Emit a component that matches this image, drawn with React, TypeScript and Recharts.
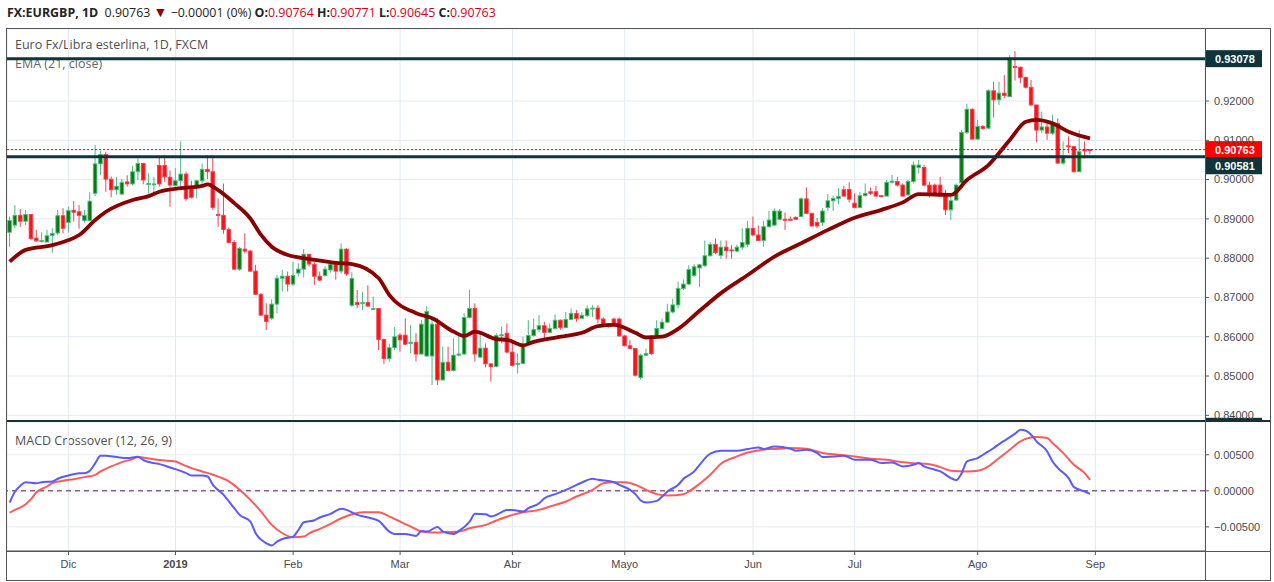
import React from 'react';
import { ComposedChart, Bar, Line, XAxis, YAxis, CartesianGrid, ReferenceLine } from 'recharts';

// daily EUR/GBP candles, 2018-11-16 .. 2019-08-30
const OPEN = [
  0.8866, 0.8884, 0.8909, 0.8894, 0.8911, 0.8851, 0.8842, 0.8841, 0.8858, 0.8864,
  0.8908, 0.8891, 0.8922, 0.8918, 0.8896, 0.8896, 0.8965, 0.9040, 0.9064, 0.9001,
  0.8974, 0.8963, 0.8994, 0.8989, 0.9020, 0.9041, 0.8989, 0.8988, 0.9036, 0.9036,
  0.9006, 0.8985, 0.8997, 0.9014, 0.8980, 0.8980, 0.8997, 0.9026, 0.9020, 0.8911,
  0.8909, 0.8873, 0.8840, 0.8772, 0.8823, 0.8818, 0.8767, 0.8708, 0.8655, 0.8647,
  0.8683, 0.8749, 0.8754, 0.8734, 0.8762, 0.8772, 0.8810, 0.8784, 0.8754, 0.8756,
  0.8770, 0.8784, 0.8767, 0.8823, 0.8680, 0.8687, 0.8686, 0.8687, 0.8671, 0.8672,
  0.8593, 0.8544, 0.8572, 0.8604, 0.8604, 0.8583, 0.8586, 0.8556, 0.8551, 0.8551,
  0.8632, 0.8490, 0.8535, 0.8514, 0.8553, 0.8556, 0.8649, 0.8672, 0.8548, 0.8571,
  0.8531, 0.8524, 0.8603, 0.8609, 0.8561, 0.8530, 0.8532, 0.8580, 0.8603, 0.8618,
  0.8628, 0.8611, 0.8621, 0.8642, 0.8623, 0.8644, 0.8659, 0.8647, 0.8654, 0.8671,
  0.8673, 0.8645, 0.8632, 0.8645, 0.8645, 0.8602, 0.8577, 0.8570, 0.8496, 0.8553,
  0.8601, 0.8601, 0.8621, 0.8637, 0.8663, 0.8681, 0.8723, 0.8734, 0.8756, 0.8775,
  0.8781, 0.8806, 0.8835, 0.8807, 0.8828, 0.8821, 0.8818, 0.8828, 0.8835, 0.8876,
  0.8859, 0.8845, 0.8880, 0.8884, 0.8899, 0.8899, 0.8899, 0.8904, 0.8906, 0.8951,
  0.8914, 0.8891, 0.8891, 0.8929, 0.8946, 0.8952, 0.8974, 0.8975, 0.8940, 0.8929,
  0.8959, 0.8969, 0.8969, 0.8959, 0.8958, 0.8993, 0.8995, 0.8986, 0.8961, 0.8995,
  0.9031, 0.9031, 0.8986, 0.8986, 0.8986, 0.8965, 0.8923, 0.8948, 0.8992, 0.9120,
  0.9179, 0.9103, 0.9135, 0.9131, 0.9226, 0.9203, 0.9220, 0.9211, 0.9288, 0.9286,
  0.9260, 0.9235, 0.9190, 0.9126, 0.9134, 0.9118, 0.9142, 0.9042, 0.9086, 0.9084,
  0.9020, 0.9077, 0.90764,
];
const HIGH = [
  0.8906, 0.8935, 0.8925, 0.8922, 0.8911, 0.8872, 0.8866, 0.8872, 0.8876, 0.8923,
  0.8927, 0.8931, 0.8945, 0.8935, 0.8923, 0.8968, 0.9088, 0.9073, 0.9071, 0.9008,
  0.9006, 0.9002, 0.9011, 0.9035, 0.9054, 0.9043, 0.9016, 0.9007, 0.9062, 0.9062,
  0.9023, 0.9029, 0.9097, 0.9020, 0.8997, 0.8999, 0.9041, 0.9062, 0.9062, 0.8952,
  0.8990, 0.8878, 0.8846, 0.8829, 0.8863, 0.8821, 0.8783, 0.8711, 0.8685, 0.8695,
  0.8757, 0.8770, 0.8766, 0.8791, 0.8787, 0.8823, 0.8810, 0.8791, 0.8766, 0.8779,
  0.8791, 0.8791, 0.8838, 0.8825, 0.8764, 0.8719, 0.8714, 0.8731, 0.8702, 0.8672,
  0.8595, 0.8582, 0.8625, 0.8609, 0.8647, 0.8630, 0.8609, 0.8643, 0.8678, 0.8643,
  0.8647, 0.8575, 0.8575, 0.8596, 0.8605, 0.8660, 0.8719, 0.8685, 0.8609, 0.8583,
  0.8531, 0.8609, 0.8626, 0.8634, 0.8592, 0.8557, 0.8600, 0.8642, 0.8646, 0.8655,
  0.8638, 0.8634, 0.8657, 0.8644, 0.8663, 0.8672, 0.8668, 0.8663, 0.8680, 0.8680,
  0.8680, 0.8650, 0.8635, 0.8649, 0.8649, 0.8604, 0.8591, 0.8571, 0.8557, 0.8570,
  0.8604, 0.8642, 0.8646, 0.8684, 0.8697, 0.8740, 0.8746, 0.8782, 0.8785, 0.8785,
  0.8845, 0.8842, 0.8850, 0.8845, 0.8845, 0.8833, 0.8835, 0.8876, 0.8895, 0.8906,
  0.8883, 0.8895, 0.8920, 0.8927, 0.8925, 0.8916, 0.8906, 0.8906, 0.8955, 0.8980,
  0.8916, 0.8902, 0.8927, 0.8963, 0.8959, 0.8978, 0.8984, 0.8993, 0.8965, 0.8969,
  0.8990, 0.8980, 0.8984, 0.8961, 0.8999, 0.9012, 0.9007, 0.8990, 0.8999, 0.9046,
  0.9050, 0.9037, 0.8995, 0.8990, 0.9007, 0.8974, 0.8957, 0.8990, 0.9126, 0.9193,
  0.9181, 0.9152, 0.9139, 0.9230, 0.9249, 0.9249, 0.9266, 0.9317, 0.9327, 0.9288,
  0.9262, 0.9254, 0.9190, 0.9173, 0.9152, 0.9165, 0.9156, 0.9097, 0.9110, 0.9086,
  0.9126, 0.9097, 0.90771,
];
const LOW = [
  0.8828, 0.8876, 0.8879, 0.8884, 0.8846, 0.8842, 0.8840, 0.8841, 0.8814, 0.8859,
  0.8863, 0.8865, 0.8893, 0.8875, 0.8891, 0.8896, 0.8958, 0.9012, 0.8969, 0.8955,
  0.8961, 0.8961, 0.8982, 0.8985, 0.8999, 0.8988, 0.8965, 0.8965, 0.8982, 0.8995,
  0.8931, 0.8982, 0.8978, 0.8946, 0.8952, 0.8952, 0.8986, 0.9001, 0.8923, 0.8880,
  0.8862, 0.8838, 0.8770, 0.8768, 0.8812, 0.8765, 0.8706, 0.8653, 0.8617, 0.8643,
  0.8660, 0.8715, 0.8715, 0.8729, 0.8753, 0.8751, 0.8779, 0.8732, 0.8742, 0.8753,
  0.8763, 0.8745, 0.8761, 0.8755, 0.8676, 0.8672, 0.8668, 0.8676, 0.8668, 0.8566,
  0.8531, 0.8536, 0.8566, 0.8562, 0.8579, 0.8558, 0.8537, 0.8554, 0.8549, 0.8477,
  0.8477, 0.8488, 0.8511, 0.8512, 0.8550, 0.8554, 0.8647, 0.8537, 0.8545, 0.8522,
  0.8486, 0.8522, 0.8583, 0.8558, 0.8524, 0.8506, 0.8530, 0.8578, 0.8600, 0.8612,
  0.8591, 0.8608, 0.8618, 0.8618, 0.8622, 0.8642, 0.8638, 0.8646, 0.8650, 0.8650,
  0.8634, 0.8629, 0.8623, 0.8627, 0.8600, 0.8576, 0.8568, 0.8499, 0.8491, 0.8551,
  0.8553, 0.8598, 0.8618, 0.8635, 0.8659, 0.8672, 0.8719, 0.8731, 0.8753, 0.8726,
  0.8777, 0.8804, 0.8810, 0.8798, 0.8799, 0.8799, 0.8815, 0.8821, 0.8829, 0.8856,
  0.8843, 0.8829, 0.8878, 0.8882, 0.8897, 0.8872, 0.8895, 0.8897, 0.8904, 0.8912,
  0.8880, 0.8876, 0.8882, 0.8920, 0.8920, 0.8937, 0.8957, 0.8942, 0.8927, 0.8927,
  0.8957, 0.8961, 0.8957, 0.8955, 0.8957, 0.8990, 0.8982, 0.8957, 0.8959, 0.8990,
  0.9016, 0.8982, 0.8955, 0.8962, 0.8957, 0.8910, 0.8897, 0.8946, 0.8990, 0.9116,
  0.9102, 0.9101, 0.9126, 0.9128, 0.9158, 0.9190, 0.9207, 0.9210, 0.9252, 0.9245,
  0.9232, 0.9186, 0.9095, 0.9118, 0.9101, 0.9114, 0.9040, 0.9038, 0.9067, 0.9018,
  0.9020, 0.9054, 0.90645,
];
const CLOSE = [
  0.8896, 0.8909, 0.8894, 0.8911, 0.8850, 0.8844, 0.8845, 0.8857, 0.8863, 0.8908,
  0.8876, 0.8921, 0.8917, 0.8909, 0.8909, 0.8945, 0.9040, 0.9064, 0.9001, 0.8974,
  0.8983, 0.8993, 0.8989, 0.9020, 0.9041, 0.8999, 0.8990, 0.8989, 0.8989, 0.9007,
  0.8986, 0.8997, 0.9014, 0.8951, 0.8955, 0.8997, 0.9026, 0.9020, 0.8929, 0.8909,
  0.8873, 0.8840, 0.8772, 0.8825, 0.8818, 0.8767, 0.8708, 0.8655, 0.8639, 0.8683,
  0.8749, 0.8754, 0.8734, 0.8756, 0.8772, 0.8810, 0.8785, 0.8754, 0.8744, 0.8772,
  0.8784, 0.8767, 0.8823, 0.8760, 0.8748, 0.8682, 0.8687, 0.8678, 0.8672, 0.8593,
  0.8544, 0.8572, 0.8600, 0.8592, 0.8581, 0.8586, 0.8556, 0.8632, 0.8664, 0.8632,
  0.8490, 0.8535, 0.8514, 0.8553, 0.8556, 0.8649, 0.8672, 0.8556, 0.8571, 0.8531,
  0.8524, 0.8603, 0.8605, 0.8561, 0.8527, 0.8532, 0.8580, 0.8603, 0.8618, 0.8628,
  0.8611, 0.8621, 0.8642, 0.8623, 0.8644, 0.8659, 0.8646, 0.8654, 0.8671, 0.8673,
  0.8645, 0.8632, 0.8627, 0.8632, 0.8602, 0.8577, 0.8570, 0.8502, 0.8553, 0.8557,
  0.8557, 0.8621, 0.8637, 0.8663, 0.8681, 0.8723, 0.8734, 0.8771, 0.8778, 0.8783,
  0.8806, 0.8835, 0.8814, 0.8828, 0.8819, 0.8819, 0.8828, 0.8840, 0.8876, 0.8859,
  0.8845, 0.8880, 0.8897, 0.8920, 0.8920, 0.8897, 0.8897, 0.8899, 0.8951, 0.8914,
  0.8882, 0.8882, 0.8920, 0.8946, 0.8952, 0.8957, 0.8958, 0.8950, 0.8929, 0.8959,
  0.8965, 0.8965, 0.8958, 0.8957, 0.8993, 0.8996, 0.8986, 0.8958, 0.8995, 0.9037,
  0.9037, 0.8986, 0.8967, 0.8965, 0.8965, 0.8923, 0.8946, 0.8986, 0.9120, 0.9179,
  0.9103, 0.9135, 0.9130, 0.9226, 0.9203, 0.9220, 0.9214, 0.9309, 0.9286, 0.9260,
  0.9235, 0.9190, 0.9126, 0.9134, 0.9118, 0.9142, 0.9042, 0.9060, 0.9084, 0.9020,
  0.9071, 0.9073, 0.90763,
];

// [bar index, value]
const EMA21: [number, number][] = [
  [0, 0.8791], [3, 0.8821], [8, 0.8833], [11, 0.8846], [13, 0.8859], [16, 0.8897], [18, 0.8918],
  [23, 0.8948], [26, 0.8958], [28, 0.8969], [32, 0.8978], [36, 0.8984], [37, 0.8988], [39, 0.8973],
  [42, 0.8940], [45, 0.8901], [47, 0.8859], [49, 0.8829], [52, 0.8808], [54, 0.8802], [58, 0.8794],
  [61, 0.8788], [64, 0.8785], [69, 0.8749], [71, 0.8706], [76, 0.8660], [79, 0.8647], [83, 0.8613],
  [85, 0.8602], [87, 0.8613], [91, 0.8594], [93, 0.8592], [96, 0.8578], [98, 0.8587], [104, 0.8602],
  [107, 0.8610], [110, 0.8627], [113, 0.8630], [117, 0.8610], [119, 0.8598], [122, 0.8600],
  [125, 0.8620], [129, 0.8666], [133, 0.8711], [138, 0.8757], [143, 0.8804], [148, 0.8838],
  [153, 0.8872], [158, 0.8903], [163, 0.8923], [167, 0.8942], [170, 0.8963], [176, 0.8961],
  [179, 0.8999], [183, 0.9037], [187, 0.9101], [190, 0.9147], [192, 0.9152], [195, 0.9143],
  [198, 0.9122], [202, 0.9105],
];
const MACD_LINE: [number, number][] = [
  [0, -0.00162], [1, -0.0001], [2, 0.0007], [3, 0.0012], [5, 0.00106], [6, 0.0012], [8, 0.0013],
  [9, 0.00167], [11, 0.00213], [13, 0.00245], [14, 0.00245], [15, 0.00278], [16, 0.00384],
  [17, 0.00486], [18, 0.00486], [20, 0.00468], [22, 0.00454], [24, 0.00472], [25, 0.00426],
  [27, 0.00384], [28, 0.0037], [30, 0.00324], [31, 0.00301], [33, 0.00245], [34, 0.00213],
  [36, 0.00213], [37, 0.00199], [38, 0.00083], [40, -0.00056], [42, -0.00241], [43, -0.00333],
  [45, -0.00426], [46, -0.00588], [48, -0.00727], [49, -0.00759], [50, -0.00704], [51, -0.00667],
  [53, -0.00634], [54, -0.00542], [55, -0.00435], [57, -0.00407], [58, -0.0037], [60, -0.00319],
  [62, -0.0025], [63, -0.00264], [65, -0.00333], [67, -0.0037], [69, -0.00417], [71, -0.00565],
  [72, -0.00597], [74, -0.00597], [75, -0.00611], [76, -0.00625], [77, -0.00556], [78, -0.00565],
  [80, -0.005], [81, -0.00565], [83, -0.00597], [84, -0.00556], [86, -0.00426], [87, -0.00319],
  [89, -0.00324], [90, -0.00357], [92, -0.00296], [93, -0.00264], [94, -0.00264], [96, -0.00287],
  [97, -0.00241], [99, -0.00171], [100, -0.00102], [102, -0.00046], [104, 0.00014], [106, 0.00083],
  [107, 0.00116], [109, 0.00167], [110, 0.00153], [113, 0.0012], [114, 0.00083], [116, 0.00014],
  [117, -0.00046], [118, -0.00134], [119, -0.00162], [121, -0.00139], [122, -0.00079],
  [123, -0.00009], [125, 0.00083], [126, 0.00167], [128, 0.00269], [129, 0.00361], [131, 0.00514],
  [133, 0.00556], [136, 0.00556], [138, 0.00579], [140, 0.00602], [141, 0.00579], [143, 0.00616],
  [146, 0.00583], [147, 0.00556], [149, 0.00569], [151, 0.00523], [152, 0.00468], [154, 0.00477],
  [156, 0.00486], [158, 0.00431], [161, 0.00431], [163, 0.00384], [165, 0.00394], [167, 0.00338],
  [169, 0.00361], [170, 0.00384], [171, 0.00338], [173, 0.00292], [174, 0.00269], [176, 0.00176],
  [177, 0.00148], [178, 0.00245], [179, 0.00407], [181, 0.00454], [182, 0.005], [184, 0.00593],
  [185, 0.00648], [186, 0.00695], [188, 0.00792], [189, 0.00847], [190, 0.00833], [191, 0.00778],
  [192, 0.00685], [194, 0.00546], [195, 0.00407], [196, 0.00315], [198, 0.00176], [199, 0.00051],
  [201, -0.00009], [202, -0.00042],
];
const SIGNAL_LINE: [number, number][] = [
  [0, -0.00301], [1, -0.00264], [3, -0.00185], [4, -0.00116], [5, -0.00019], [7, 0.0006],
  [8, 0.00106], [10, 0.00139], [12, 0.00162], [14, 0.0019], [16, 0.00222], [17, 0.00269],
  [19, 0.00338], [21, 0.00398], [23, 0.0044], [24, 0.00468], [26, 0.00449], [28, 0.00426],
  [31, 0.00407], [32, 0.00375], [34, 0.00315], [36, 0.00269], [38, 0.00222], [41, 0.0013],
  [43, 0.00014], [45, -0.00125], [47, -0.00287], [49, -0.00472], [51, -0.00588], [53, -0.00644],
  [55, -0.00634], [56, -0.00588], [58, -0.00528], [60, -0.00458], [62, -0.0038], [64, -0.00324],
  [66, -0.00296], [69, -0.00296], [71, -0.00357], [73, -0.00426], [75, -0.00495], [77, -0.00565],
  [79, -0.00579], [81, -0.00574], [84, -0.00565], [86, -0.00519], [89, -0.00472], [91, -0.00412],
  [94, -0.00333], [96, -0.00296], [99, -0.00264], [101, -0.00218], [104, -0.00148], [106, -0.00079],
  [109, 0.00014], [111, 0.00106], [113, 0.0012], [115, 0.0012], [117, 0.00083], [119, 0.00014],
  [121, -0.00046], [123, -0.00065], [126, -0.00046], [127, -0.00009], [129, 0.00097], [131, 0.00222],
  [133, 0.00375], [136, 0.00477], [138, 0.00532], [140, 0.0056], [142, 0.00579], [144, 0.00583],
  [146, 0.00593], [149, 0.00583], [152, 0.00523], [155, 0.005], [158, 0.00477], [161, 0.00444],
  [164, 0.00431], [166, 0.00407], [169, 0.00384], [172, 0.0037], [174, 0.00329], [176, 0.00278],
  [179, 0.00269], [181, 0.00278], [183, 0.00338], [185, 0.00454], [187, 0.00569], [189, 0.00685],
  [192, 0.00745], [194, 0.00732], [195, 0.00662], [197, 0.00523], [199, 0.00361], [201, 0.00245],
  [202, 0.00153],
];

const MONTH_IDX = [11, 31, 53, 73, 94, 115, 139, 158, 181, 203];
const MONTH_LABELS = ['Dic', '2019', 'Feb', 'Mar', 'Abr', 'Mayo', 'Jun', 'Jul', 'Ago', 'Sep'];
const PRICE_TICKS = [0.84, 0.85, 0.86, 0.87, 0.88, 0.89, 0.9, 0.91, 0.92];
const MACD_TICKS = [-0.005, 0, 0.005];
const SLOTS = 224; // bars + empty space on the right

const GRID = '#e3ebf1';
const LEVEL = '#0f3439';
const AXIS = '#555';
const TXT = '#4a4a4a';
const UP_FILL = '#0a7a0a';
const UP_LINE = '#4dba82';
const DN_FILL = '#ff1212';
const DN_LINE = '#ec4457';
const VAL_RED = '#d0021b';

const emaAt = new Map(EMA21);
const macdAt = new Map(MACD_LINE);
const sigAt = new Map(SIGNAL_LINE);

const rows = Array.from({ length: SLOTS }, (_, i) => {
  const has = i < CLOSE.length;
  return {
    i,
    o: has ? OPEN[i] : null,
    h: has ? HIGH[i] : null,
    l: has ? LOW[i] : null,
    c: has ? CLOSE[i] : null,
    range: has ? [LOW[i], HIGH[i]] : null,
    ema: emaAt.get(i) ?? null,
    macd: macdAt.get(i) ?? null,
    signal: sigAt.get(i) ?? null,
  };
});

const fmt5 = (v: number) => (v < 0 ? '\u2212' : '') + Math.abs(v).toFixed(5);

function Candle(props: any) {
  const { x, y, width, height, payload } = props;
  if (!payload || payload.o == null) return null;
  const { o, h, l, c } = payload;
  const top = Math.min(y, y + height);
  const hgt = Math.abs(height);
  const k = h - l > 0 ? hgt / (h - l) : 0;
  const yO = top + (h - o) * k;
  const yC = top + (h - c) * k;
  const up = c >= o;
  const cx = x + width / 2;
  const bTop = Math.min(yO, yC);
  const bH = Math.max(1, Math.abs(yO - yC));
  return (
    <g>
      <line x1={cx} x2={cx} y1={top} y2={top + hgt} stroke={up ? UP_LINE : DN_LINE} strokeWidth={1} />
      <rect x={cx - 1.8} y={bTop} width={3.6} height={bH}
        fill={up ? UP_FILL : DN_FILL} stroke={up ? UP_LINE : DN_LINE} strokeWidth={0.9} />
    </g>
  );
}

function PriceTag(props: any) {
  const { viewBox, text, bg, shift = 0 } = props;
  if (!viewBox) return null;
  const x = viewBox.x + viewBox.width;
  const y = viewBox.y + shift;
  return (
    <g>
      <rect x={x + 1} y={y - 8.5} width={56} height={17} fill={bg} />
      <text x={x + 10} y={y + 4} fill="#fff" fontSize={11} fontWeight={700}>{text}</text>
    </g>
  );
}

function MonthTick(props: any) {
  const { x, y, payload } = props;
  const label = MONTH_LABELS[MONTH_IDX.indexOf(payload.value)];
  return (
    <text x={x} y={y + 11} textAnchor="middle" fontSize={11} fill={TXT}
      fontWeight={label === '2019' ? 700 : 400}>{label}</text>
  );
}

const tickStyle = { fontSize: 11, fill: TXT };

export default function App() {
  return (
    <div style={{
      position: 'absolute', left: 0, top: 0, width: 1274, height: 582, background: '#fff',
      fontFamily: '"Liberation Sans", Arial, sans-serif', overflow: 'hidden',
    }}>
      <div style={{
        position: 'absolute', left: 7, top: 4, fontFamily: '"Open Sans", sans-serif', fontSize: 12.4,
        lineHeight: '16px', color: '#222', whiteSpace: 'nowrap',
      }}>
        <b>FX:EURGBP, 1D</b>&nbsp; 0.90763 <span style={{ color: '#8b0000', fontSize: 14 }}>▼</span> −0.00001 (0%)&nbsp;
        <b>O:</b><span style={{ color: VAL_RED }}>0.90764</span>&nbsp;
        <b>H:</b><span style={{ color: VAL_RED }}>0.90771</span>&nbsp;
        <b>L:</b><span style={{ color: VAL_RED }}>0.90645</span>&nbsp;
        <b>C:</b><span style={{ color: VAL_RED }}>0.90763</span>
      </div>

      <div style={{ position: 'absolute', left: 6, top: 28, width: 1263, height: 551, border: `1px solid ${AXIS}` }} />

      <div style={{ position: 'absolute', left: 15, top: 36, fontFamily: '"Open Sans", sans-serif', fontSize: 12.5, color: '#4f4f4f', whiteSpace: 'nowrap' }}>
        Euro Fx/Libra esterlina, 1D, FXCM
      </div>
      <div style={{ position: 'absolute', left: 15, top: 55, fontFamily: '"Open Sans", sans-serif', fontSize: 12.5, color: '#666', whiteSpace: 'nowrap' }}>
        EMA (21, close)
      </div>
      <div style={{ position: 'absolute', left: 15, top: 432, fontFamily: '"Open Sans", sans-serif', fontSize: 12.5, color: '#4f4f4f', whiteSpace: 'nowrap' }}>
        MACD Crossover (12, 26, 9)
      </div>

      <div style={{ position: 'absolute', left: 7, top: 29 }}>
        <ComposedChart width={1263} height={392} data={rows} margin={{ top: 0, right: 0, bottom: 0, left: 0 }}>
          <CartesianGrid stroke={GRID} />
          <XAxis dataKey="i" type="category" scale="band" hide ticks={MONTH_IDX} interval={0} />
          <YAxis orientation="right" width={65} domain={[0.83855, 0.93833]} ticks={PRICE_TICKS} interval={0}
            allowDataOverflow tickFormatter={fmt5} axisLine={false} tickLine={{ stroke: AXIS }}
            tickSize={4} tickMargin={5} tick={tickStyle} />
          <Bar dataKey="range" shape={Candle} isAnimationActive={false} />
          <Line dataKey="ema" type="monotone" stroke="#8b0000" strokeWidth={3.8} dot={false}
            connectNulls isAnimationActive={false} />
          <ReferenceLine y={0.90763} stroke="#ff0000" strokeDasharray="2 2" strokeWidth={1}
            label={<PriceTag text="0.90763" bg="#ff0000" />} />
          <ReferenceLine y={0.93078} stroke={LEVEL} strokeWidth={3}
            label={<PriceTag text="0.93078" bg={LEVEL} />} />
          <ReferenceLine y={0.90581} stroke={LEVEL} strokeWidth={3}
            label={<PriceTag text="0.90581" bg={LEVEL} shift={9} />} />
          <ReferenceLine y={0.83822} stroke={LEVEL} strokeWidth={0} ifOverflow="visible"
            label={<PriceTag text="0.83822" bg={LEVEL} shift={4} />} />
        </ComposedChart>
      </div>

      <div style={{ position: 'absolute', left: 7, top: 420, width: 1263, height: 2, background: '#1c2f33' }} />

      <div style={{ position: 'absolute', left: 7, top: 422 }}>
        <ComposedChart width={1263} height={158} data={rows} margin={{ top: 0, right: 0, bottom: 0, left: 0 }}>
          <CartesianGrid stroke={GRID} />
          <XAxis dataKey="i" type="category" scale="band" ticks={MONTH_IDX} interval={0} height={29}
            tick={<MonthTick />} tickSize={4} tickMargin={2} axisLine={{ stroke: AXIS }} tickLine={{ stroke: AXIS }} />
          <YAxis orientation="right" width={65} domain={[-0.00834, 0.00954]} ticks={MACD_TICKS} interval={0}
            allowDataOverflow tickFormatter={fmt5} axisLine={false} tickLine={{ stroke: AXIS }}
            tickSize={4} tickMargin={5} tick={tickStyle} />
          <ReferenceLine y={0} stroke="#5e145e" strokeDasharray="5 4" strokeWidth={1} />
          <Line dataKey="signal" type="monotone" stroke="#ff5a5a" strokeWidth={2} dot={false}
            connectNulls isAnimationActive={false} />
          <Line dataKey="macd" type="monotone" stroke="#5a5aff" strokeWidth={2} dot={false}
            connectNulls isAnimationActive={false} />
        </ComposedChart>
      </div>

      <div style={{ position: 'absolute', left: 7, top: 551, width: 1263, height: 1, background: AXIS }} />
      <div style={{ position: 'absolute', left: 1205, top: 29, width: 1, height: 551, background: AXIS }} />
    </div>
  );
}
